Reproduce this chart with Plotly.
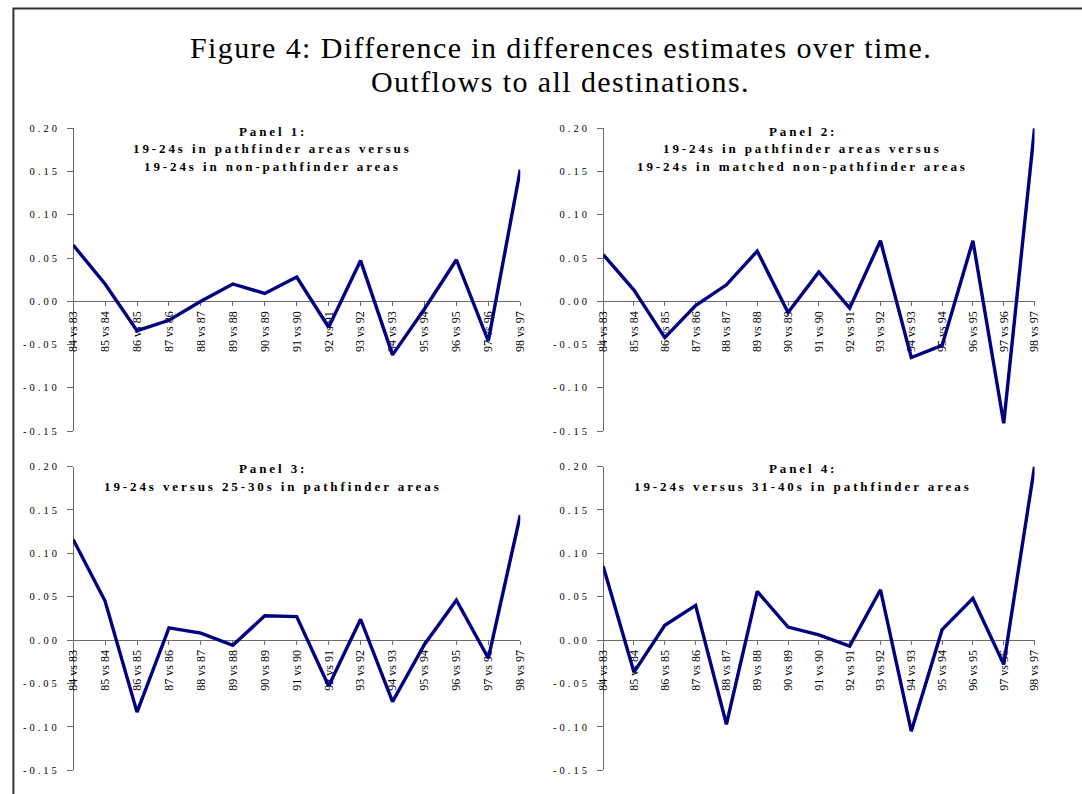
import plotly.graph_objects as go

categories = ["84 vs 83", "85 vs 84", "86 vs 85", "87 vs 86", "88 vs 87", "89 vs 88",
              "90 vs 89", "91 vs 90", "92 vs 91", "93 vs 92", "94 vs 93", "95 vs 94",
              "96 vs 95", "97 vs 96", "98 vs 97"]

panel1 = [0.065, 0.020, -0.034, -0.022, 0.000, 0.020, 0.009, 0.028, -0.030, 0.047,
          -0.062, -0.009, 0.048, -0.046, 0.152]
panel2 = [0.054, 0.013, -0.042, -0.005, 0.019, 0.058, -0.013, 0.034, -0.008, 0.070,
          -0.065, -0.051, 0.070, -0.141, 0.200]
panel3 = [0.116, 0.045, -0.083, 0.014, 0.008, -0.006, 0.028, 0.027, -0.053, 0.024,
          -0.071, -0.005, 0.046, -0.021, 0.144]
panel4 = [0.085, -0.037, 0.017, 0.040, -0.097, 0.056, 0.015, 0.006, -0.007, 0.058,
          -0.105, 0.012, 0.048, -0.028, 0.200]

panel_titles = [
    ["Panel 1:", "19-24s in pathfinder areas versus", "19-24s in non-pathfinder areas"],
    ["Panel 2:", "19-24s in pathfinder areas versus", "19-24s in matched non-pathfinder areas"],
    ["Panel 3:", "19-24s versus 25-30s in pathfinder areas"],
    ["Panel 4:", "19-24s versus 31-40s in pathfinder areas"],
]
y_ticks = [-0.15, -0.10, -0.05, 0.00, 0.05, 0.10, 0.15, 0.20]
y_tick_text = ["-0.15", "-0.10", "-0.05", "0.00", "0.05", "0.10", "0.15", "0.20"]
y_range = [-0.15, 0.20]

main_title = ["Figure 4: Difference in differences estimates over time.",
              "Outflows to all destinations."]

W, H = 1082, 794
SERIF = "Liberation Serif, Times New Roman, serif"
NAVY = "#000080"
AXIS = "#6a6a6a"

# panel geometry (pixels): x_left, x_right, y_top, y_bottom
geo = [
    (67, 520, 125, 432),
    (604, 1041, 125, 432),
    (67, 520, 468, 776),
    (604, 1041, 468, 776),
]
title_cx = [269, 806, 269, 806]
title_cy = [128, 128, 470, 470]
TITLE_STEP = 18


def spaced(s, px):
    return f'<span style="letter-spacing:{px}px">{s}</span>'


series = [panel1, panel2, panel3, panel4]

fig = go.Figure()
layout = dict(
    width=W, height=H,
    margin=dict(l=0, r=0, t=0, b=0),
    paper_bgcolor="white", plot_bgcolor="white",
    showlegend=False,
    font=dict(family=SERIF, color="black"),
)

annotations = []
for i, (vals, (xl, xr, yt, yb)) in enumerate(zip(series, geo)):
    n = i + 1
    xname = "x" if n == 1 else f"x{n}"
    yname = "y" if n == 1 else f"y{n}"
    xd = [xl / W, xr / W]
    yd = [1 - yb / H, 1 - yt / H]
    zero_frac = (0 - y_range[0]) / (y_range[1] - y_range[0])
    xpos = yd[0] + zero_frac * (yd[1] - yd[0])
    fig.add_trace(go.Scatter(
        x=categories, y=vals, mode="lines",
        line=dict(color=NAVY, width=3.4),
        xaxis=xname, yaxis=yname, hoverinfo="skip",
    ))
    layout["xaxis" if n == 1 else f"xaxis{n}"] = dict(
        domain=xd, anchor="free", position=xpos,
        type="category", categoryorder="array", categoryarray=categories,
        range=[0, len(categories) - 1],
        showline=True, linecolor=AXIS, linewidth=1.3,
        ticks="outside", ticklen=4, tickcolor=AXIS, tickwidth=1.3,
        tickangle=-90, tickfont=dict(family=SERIF, size=12, color="black"),
        showgrid=False, zeroline=False, layer="below traces",
        fixedrange=True,
    )
    layout["yaxis" if n == 1 else f"yaxis{n}"] = dict(
        domain=yd, anchor="free", position=xd[0],
        range=y_range, tickvals=y_ticks,
        ticktext=[spaced(t, 3) for t in y_tick_text],
        showline=True, linecolor=AXIS, linewidth=1.3,
        ticks="outside", ticklen=6, tickcolor=AXIS, tickwidth=1.3,
        tickfont=dict(family=SERIF, size=10.5, color="black"),
        ticklabelstandoff=5,
        showgrid=False, zeroline=False, layer="below traces",
        fixedrange=True,
    )
    for k, line in enumerate(panel_titles[i]):
        annotations.append(dict(
            text="<b>" + spaced(line, 2.9) + "</b>",
            x=title_cx[i] / W, y=1 - (title_cy[i] + k * TITLE_STEP) / H,
            xref="paper", yref="paper", xanchor="center", yanchor="middle",
            showarrow=False, align="center",
            font=dict(family=SERIF, size=13, color="black"),
        ))

for k, line in enumerate(main_title):
    annotations.append(dict(
        text=spaced(line, 1.4),
        x=561 / W, y=1 - (43 + 35 * k) / H, xref="paper", yref="paper",
        xanchor="center", yanchor="middle", showarrow=False, align="center",
        font=dict(family=SERIF, size=30, color="black"),
    ))
layout["annotations"] = annotations
layout["shapes"] = [dict(
    type="rect", xref="paper", yref="paper",
    x0=6.5 / W, x1=1.02, y0=-0.02, y1=1 - 3.5 / H,
    line=dict(color="#303030", width=2), fillcolor="rgba(0,0,0,0)",
)]
fig.update_layout(**layout)
fig.write_html(
    "out.html",
    config={"displayModeBar": False},
    post_script=(
        "document.documentElement.style.margin='0';"
        "document.body.style.margin='0';document.body.style.overflow='hidden';"
    ),
)
